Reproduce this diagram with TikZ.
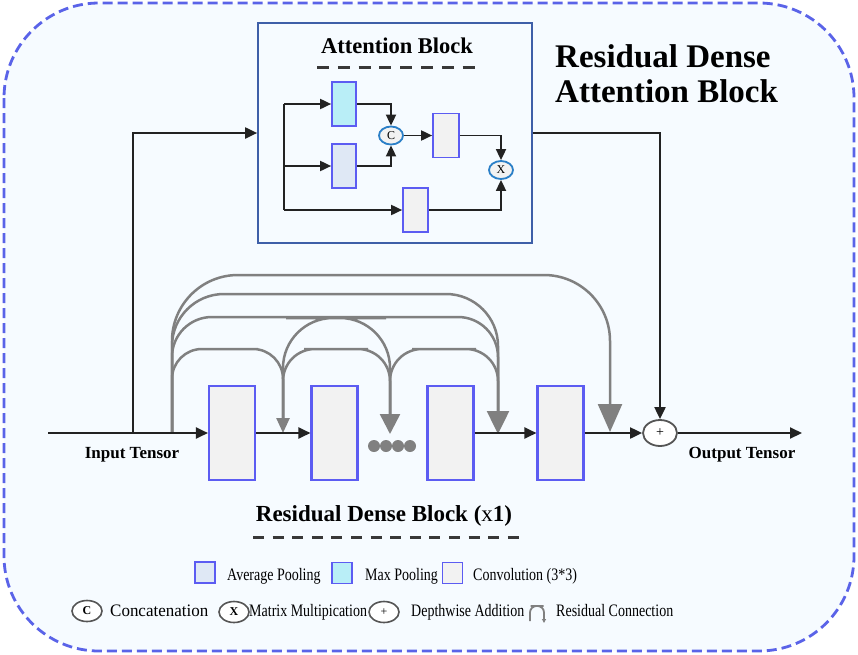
\documentclass[tikz,border=0pt]{standalone}
\usepackage{fontspec}
\setmainfont{Liberation Serif}
\newfontfamily\legendfont{Liberation Serif}[FakeStretch=0.80]
\newfontfamily\concatfont{Liberation Serif}[FakeStretch=0.97]
\usetikzlibrary{arrows.meta,shapes.geometric}
\definecolor{bgcol}{HTML}{F6FBFF}
\definecolor{outerdash}{HTML}{5A63E8}
\definecolor{attborder}{HTML}{3E5FA8}
\definecolor{boxblue}{HTML}{5C5CF2}
\definecolor{convfill}{HTML}{F2F2F2}
\definecolor{maxfill}{HTML}{B9EEF7}
\definecolor{avgfill}{HTML}{DFE8F5}
\definecolor{opblue}{HTML}{2A7FC7}
\definecolor{resgray}{HTML}{808080}
\definecolor{linecol}{HTML}{222222}
\definecolor{legcirc}{HTML}{555555}
\tikzset{
  rdbbox/.style={draw=boxblue, fill=convfill, line width=2.1pt, minimum width=46pt, minimum height=94pt, inner sep=0pt},
  attbox/.style={draw=boxblue, line width=1.7pt, minimum height=44pt, inner sep=0pt},
  attop/.style={ellipse, draw=opblue, fill=convfill, line width=1.8pt, minimum width=24pt, minimum height=18pt, inner sep=0pt, font=\fontsize{12}{12}\selectfont},
  legop/.style={ellipse, draw=legcirc, fill=white, line width=1.6pt, minimum width=30pt, minimum height=21pt, inner sep=0pt, font=\fontsize{12}{12}\selectfont\bfseries},
  legsq/.style={draw=boxblue, line width=1.6pt, minimum width=20pt, minimum height=21pt, inner sep=0pt},
  blk/.style={draw=linecol, line width=2pt},
  blkarrow/.style={blk, -{Triangle[length=12pt,width=11pt]}},
  smallarrow/.style={draw=linecol, line width=1.8pt, -{Triangle[length=11pt,width=10pt]}},
  resline/.style={draw=resgray, line width=2.5pt},
  legtext/.style={anchor=base west, inner sep=0pt, font=\legendfont\fontsize{17.5}{17.5}\selectfont},
  iotext/.style={anchor=base, inner sep=0pt, font=\fontsize{17}{17}\selectfont\bfseries}
}
\begin{document}
\begin{tikzpicture}[x=1pt,y=-1pt]
\useasboundingbox (0,0) rectangle (858,654);
% outer dashed frame
\draw[draw=outerdash, fill=bgcol, line width=2.8pt, dash pattern=on 10pt off 5pt, rounded corners=95pt] (4,3) rectangle (854,651);

% main title
\node[anchor=base west, inner sep=0pt, font=\fontsize{33}{35}\selectfont\bfseries] (t1) at (555,67) {Residual Dense};
\node[anchor=base west, inner sep=0pt, font=\fontsize{33}{35}\selectfont\bfseries] (t2) at (555,102) {Attention Block};

% attention block
\node[draw=attborder, line width=1.7pt, minimum width=274pt, minimum height=220pt, inner sep=0pt] (att) at (395,133) {};
\node[inner sep=0pt, font=\fontsize{22.5}{23}\selectfont\bfseries] (atitle) at (397,46) {Attention Block};
\draw[draw=linecol!90, line width=3pt, dash pattern=on 12pt off 8.8pt] (317,67) -- (481,67);

\node[attbox, fill=maxfill, minimum width=24pt] (mp) at (344,104) {};
\node[attbox, fill=avgfill, minimum width=24pt] (ap) at (344,166) {};
\node[attbox, fill=convfill, minimum width=26pt] (cv1) at (446,135.5) {};
\node[attbox, fill=convfill, minimum width=25pt] (cv2) at (415.5,210) {};
\node[attop] (cc) at (391,135.5) {C};
\node[attop] (xx) at (501,170) {X};

\coordinate (s1) at (284,104);
\coordinate (s2) at (284,166);
\coordinate (s3) at (284,210);
\draw[draw=linecol, line width=1.8pt] (s1) -- (s3);
\draw[smallarrow] (s1) -- (mp.west);
\draw[smallarrow] (s2) -- (ap.west);
\draw[smallarrow] (s3) -- (cv2.west);
\draw[smallarrow] (mp.east) -| (cc.north);
\draw[smallarrow] (ap.east) -| (cc.south);
\draw[smallarrow] (cc.east) -- (cv1.west);
\draw[smallarrow] (cv1.east) -| (xx.north);
\draw[smallarrow] (cv2.east) -| (xx.south);

% residual dense block
\node[rdbbox] (b1) at (232,433) {};
\node[rdbbox] (b2) at (334.5,433) {};
\node[rdbbox] (b3) at (450.5,433) {};
\node[rdbbox] (b4) at (560.5,433) {};
\node[ellipse, draw=legcirc, fill=white, line width=1.8pt, minimum width=34pt, minimum height=26pt, inner sep=0pt, font=\fontsize{14}{14}\selectfont] (plus) at (660,433) {+};

\coordinate (in) at (48,433);
\coordinate (out) at (802,433);
\coordinate (tapA) at (133,433);
\coordinate (tapR) at (172,433);

% residual arcs (gray)
\draw[resline, rounded corners=66pt, -{Triangle[length=28pt,width=24pt]}] (tapR) |- (400,275) -| (610,432);
\draw[resline, rounded corners=52pt, -{Triangle[length=23pt,width=22pt]}] (tapR) |- (300,294) -| (498,434);
\draw[resline, rounded corners=40pt] (tapR) |- (300,317) -| (498,420);
\draw[resline, rounded corners=50pt] (283,425) |- (336,318) -| (390,420);
\draw[resline, rounded corners=32pt] (283,425) |- (336,349) -| (390,420);
\draw[resline, rounded corners=32pt] (390,425) |- (444,349) -| (498,420);
\draw[resline, -{Triangle[length=20pt,width=20pt]}] (390,400) -- (390,434);
\draw[resline, rounded corners=30pt, -{Triangle[length=15pt,width=13pt]}] (tapR) |- (228,349) -| (283,433);

% dots
\foreach \dx in {374,386,398,410} {\fill[resgray] (\dx,446) circle (6pt);}

% main black connectors
\draw[blkarrow] (in) -- (b1.west);
\draw[blkarrow] (b1.east) -- (b2.west);
\draw[blkarrow] (b3.east) -- (b4.west);
\draw[blkarrow] (b4.east) -- (plus.west);
\draw[blkarrow] (plus.east) -- (out);
\draw[blkarrow] (tapA) |- (att.west);
\draw[blkarrow] (att.east) -| (plus.north);

\node[iotext] (intext) at (132,458) {Input Tensor};
\node[iotext] (outtext) at (742,458) {Output Tensor};

% RDB title
\node[anchor=base, inner sep=0pt, font=\fontsize{23}{24}\selectfont\bfseries] (rtitle) at (384,521) {Residual Dense Block (\textmd{x}1)};
\draw[draw=linecol!90, line width=3pt, dash pattern=on 11pt off 8.6pt] (253,537) -- (527,537);

% legend row 1
\node[legsq, fill=avgfill] (l1) at (205,572.5) {};
\node[legtext] (l1t) at (227,580.5) {Average Pooling};
\node[legsq, fill=maxfill] (l2) at (342,573) {};
\node[legtext] (l2t) at (365,580.5) {Max Pooling};
\node[legsq, fill=convfill] (l3) at (452.5,573) {};
\node[legtext] (l3t) at (473,580.5) {Convolution (3*3)};

% legend row 2
\node[legop] (lc) at (87,611) {C};
\node[anchor=base west, inner sep=0pt, font=\concatfont\fontsize{17.5}{17.5}\selectfont] (lct) at (110,616.5) {Concatenation};
\node[legop] (lx) at (234,612) {X};
\node[legtext] (lxt) at (249,616.5) {Matrix Multipication};
\node[legop, font=\fontsize{12}{12}\selectfont] (lp) at (384,612) {+};
\node[legtext] (lpt) at (411,616.5) {Depthwise Addition};
\coordinate (ra) at (530,621);
\coordinate (rb) at (544,623);
\draw[draw=resgray, line width=1.8pt, rounded corners=6.5pt, -{Triangle[length=4pt,width=4pt]}] (ra) |- (537,606) -| (rb);
\node[legtext] (lrt) at (556,616.5) {Residual Connection};
\end{tikzpicture}
\end{document}
